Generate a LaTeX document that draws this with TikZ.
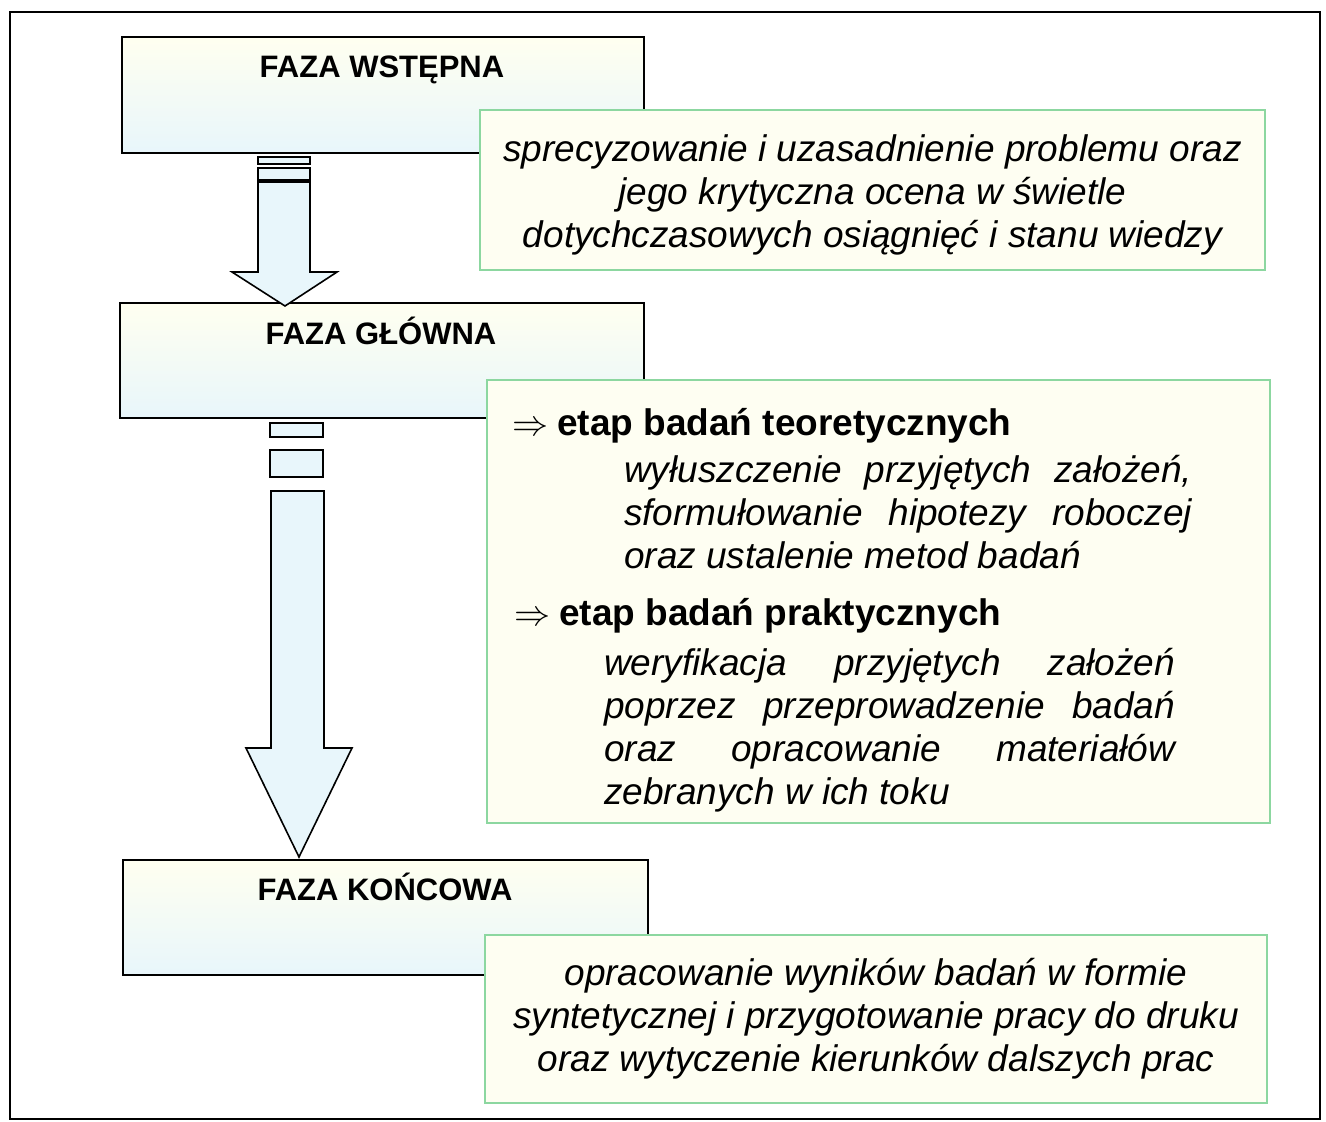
\documentclass[tikz,border=0pt]{standalone}
\usepackage{fontspec}
\setmainfont{Liberation Sans}
\usetikzlibrary{positioning}

\definecolor{zielen}{RGB}{140,215,160}
\definecolor{kremowy}{RGB}{254,254,242}
\definecolor{jasny}{RGB}{255,255,240}
\definecolor{blekit}{RGB}{232,246,251}

\tikzset{
  rama/.style={line width=2pt},
  faza/.style={draw, line width=1.6pt, top color=jasny, bottom color=blekit, inner sep=0pt},
  opis/.style={draw=zielen, line width=1.3pt, fill=kremowy, inner sep=0pt},
  tytul/.style={font=\fontsize{31}{36}\selectfont\bfseries, inner sep=0pt},
  tekst/.style={font=\fontsize{37}{43}\selectfont\itshape, inner sep=0pt},
  naglowek/.style={font=\fontsize{37}{43}\selectfont\bfseries, inner sep=0pt},
  wynika/.style={scale=1.45, inner sep=0pt, font=\fontsize{24.88}{30}\selectfont},
  strzalka/.style={draw, line width=1.6pt, fill=blekit, line join=miter}
}

\begin{document}
\begin{tikzpicture}[x=1pt, y=-1pt]
	\useasboundingbox (0,0) rectangle (1326,1122);
	\draw[rama] (10,12) rectangle (1320,1119);

	% fazy
	\node[faza, minimum width=522pt, minimum height=116pt] (faza1) at (383,95) {};
	\node[faza, minimum width=524pt, minimum height=115pt] (faza2) at (382,360.5) {};
	\node[faza, minimum width=525pt, minimum height=115pt] (faza3) at (385.5,917.5) {};
	\node[tytul, anchor=base] (t1) at (382,77) {FAZA WSTĘPNA};
	\node[tytul, anchor=base] (t2) at (381,344) {FAZA GŁÓWNA};
	\node[tytul, anchor=base] (t3) at (385,900) {FAZA KOŃCOWA};

	% strzalki
	\draw[strzalka] (258,157) rectangle (310,164);
	\draw[strzalka] (258,168) rectangle (310,180);
	\draw[strzalka] (258,182) -- (258,272) -- (232,272) -- (285,306) -- (337,272) -- (310,272) -- (310,182) -- cycle;
	\draw[strzalka] (270,423) rectangle (323,437);
	\draw[strzalka] (270,450) rectangle (323,477);
	\draw[strzalka] (271,491) -- (271,748) -- (246,748) -- (299,857) -- (352,748) -- (324,748) -- (324,491) -- cycle;

	% opisy
	\node[opis, minimum width=785pt, minimum height=160pt] (o1) at (872.5,190) {};
	\node[tekst, align=center] (o1t) at ([yshift=-5pt]o1.center)
		{sprecyzowanie i uzasadnienie problemu oraz\\jego krytyczna ocena w świetle\\dotychczasowych osiągnięć i stanu wiedzy};
	\node[opis, minimum width=783pt, minimum height=443pt] (o2) at (878.5,601.5) {};
	\node[opis, tekst, minimum width=782pt, minimum height=168pt, align=center] (o3) at (876,1019)
		{opracowanie wyników badań w formie\\syntetycznej i przygotowanie pracy do druku\\oraz wytyczenie kierunków dalszych prac};

	\node[naglowek, anchor=base west] (e1) at (557,435) {etap badań teoretycznych};
	\node[wynika] (s1) at (531,429) {$\Rightarrow$};
	\node[tekst, text width=568pt, align=justify, anchor=north west] (p1) at (624,455)
		{wyłuszczenie przyjętych założeń,\linebreak sformułowanie hipotezy roboczej\linebreak oraz ustalenie metod badań};
	\node[naglowek, anchor=base west] (e2) at (559,625) {etap badań praktycznych};
	\node[wynika] (s2) at (533,619) {$\Rightarrow$};
	\node[tekst, text width=571pt, align=justify, anchor=north west] (p2) at (604,648)
		{weryfikacja przyjętych założeń\linebreak poprzez przeprowadzenie badań\linebreak oraz opracowanie materiałów\linebreak zebranych w ich toku};
\end{tikzpicture}
\end{document}
